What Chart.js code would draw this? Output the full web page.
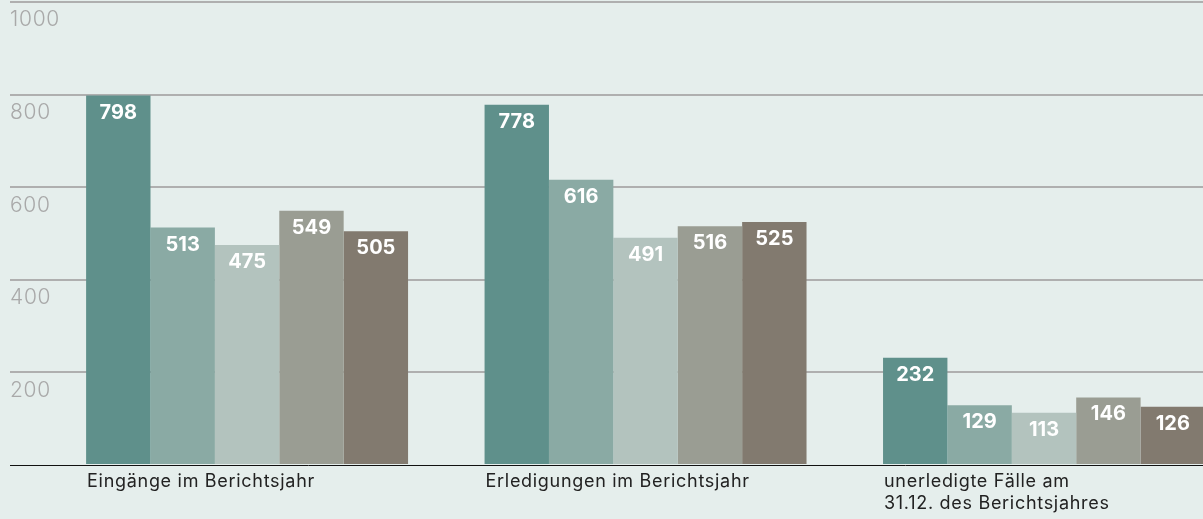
<!DOCTYPE html>
<html>
<head>
<meta charset="utf-8">
<script src="https://cdn.jsdelivr.net/npm/chart.js@4"></script>
<style>
  html, body { margin: 0; padding: 0; background: #e5eeec; overflow: hidden; }
  #wrap { width: 1203px; height: 519px; }
</style>
</head>
<body>
<div id="wrap"><canvas id="chart" width="1203" height="519"></canvas></div>
<script>
// categories (multi-line label as array)
var categories = [
  "Eingänge im Berichtsjahr",
  "Erledigungen im Berichtsjahr",
  ["unerledigte Fälle am", "31.12. des Berichtsjahres"]
];
var seriesNames = ["Reihe 1", "Reihe 2", "Reihe 3", "Reihe 4", "Reihe 5"];
var series1 = [798, 778, 232];
var series2 = [513, 616, 129];
var series3 = [475, 491, 113];
var series4 = [549, 516, 146];
var series5 = [505, 525, 126];
var yTicks = [0, 200, 400, 600, 800, 1000];

var colors = ["#5f908b", "#8aaaa4", "#b3c3be", "#9a9d93", "#827a6f"];
var allSeries = [series1, series2, series3, series4, series5];
var positions = categories.map(function (c, i) { return i; });

var datasets = allSeries.map(function (s, i) {
  return {
    label: seriesNames[i],
    data: s,
    backgroundColor: colors[i],
    borderWidth: 0,
    barPercentage: 1,
    categoryPercentage: 0.808
  };
});

// a little tracking for the axis texts
var tracking = {
  id: 'tracking',
  beforeDraw: function (chart) {
    chart.ctx.letterSpacing = '0.7px';
  }
};

// white bold numbers inside the top of each bar
var valueLabels = {
  id: 'valueLabels',
  afterDatasetsDraw: function (chart) {
    var ctx = chart.ctx;
    ctx.save();
    ctx.letterSpacing = '0px';
    ctx.fillStyle = '#ffffff';
    ctx.font = 'bold 20px Inter, "Open Sans", sans-serif';
    ctx.textAlign = 'center';
    ctx.textBaseline = 'middle';
    chart.data.datasets.forEach(function (ds, i) {
      var meta = chart.getDatasetMeta(i);
      meta.data.forEach(function (bar, j) {
        ctx.fillText(String(ds.data[j]), bar.x, bar.y + 17);
      });
    });
    ctx.restore();
  }
};

var ctx = document.getElementById("chart").getContext("2d");
new Chart(ctx, {
  type: 'bar',
  data: { labels: positions, datasets: datasets },
  plugins: [tracking, valueLabels],
  options: {
    responsive: false,
    animation: false,
    layout: { padding: { left: 10, top: 2, right: 0, bottom: -2 } },
    plugins: {
      legend: { display: false },
      tooltip: { enabled: false }
    },
    scales: {
      x: {
        type: 'linear',
        offset: false,
        min: -0.595,
        max: 2.399,
        afterBuildTicks: function (scale) {
          scale.ticks = positions.map(function (v) { return { value: v }; });
        },
        afterFit: function (scale) {
          scale.paddingLeft = 0;
          scale.paddingRight = 0;
        },
        grid: { display: false, drawTicks: false, offset: false },
        border: { display: true, color: '#111111', width: 1 },
        ticks: {
          align: 'start',
          labelOffset: -160,
          padding: 6,
          color: '#222222',
          font: { family: 'Inter, "Open Sans", sans-serif', size: 18, lineHeight: 1.22 },
          maxRotation: 0,
          autoSkip: false,
          callback: function (value, index) { return categories[index]; }
        }
      },
      y: {
        min: 0,
        max: 1000,
        afterBuildTicks: function (scale) {
          scale.ticks = yTicks.map(function (v) { return { value: v }; });
        },
        afterFit: function (scale) {
          scale.paddingTop = 0;
          scale.paddingBottom = 0;
        },
        grid: {
          drawTicks: false,
          lineWidth: 2,
          color: function (c) { return c.tick && c.tick.value === 0 ? 'rgba(0,0,0,0)' : '#afafaf'; }
        },
        border: { display: false },
        ticks: {
          mirror: true,
          padding: 0,
          labelOffset: 18,
          color: '#a9a9a9',
          font: { family: 'Inter, "Open Sans", sans-serif', size: 21, weight: 300 },
          callback: function (v) { return v === 0 ? '' : String(v); }
        }
      }
    }
  }
});
</script>
</body>
</html>
